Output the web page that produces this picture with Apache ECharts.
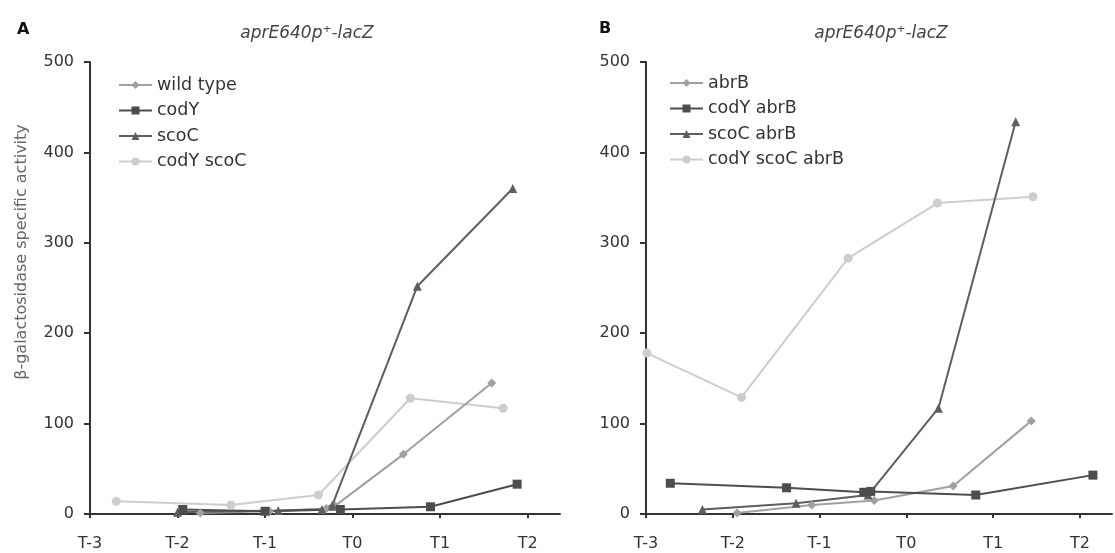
<!DOCTYPE html>
<html>
<head>
<meta charset="utf-8">
<script src="https://cdn.jsdelivr.net/npm/echarts@6/dist/echarts.min.js"></script>
<style>
  html, body { margin: 0; padding: 0; background: #fff; }
  #chart { width: 1115px; height: 553px; }
</style>
</head>
<body>
<div id="chart"></div>
<script>
// tick labels (x positions are hours relative to T0)
const xTicks = [-3, -2, -1, 0, 1, 2]
const yTicks = [0, 100, 200, 300, 400, 500]

// panel A: aprE640p+-lacZ
const wildType = [[-1.74, 1], [-0.95, 3], [-0.3, 6], [-0.2, 9], [0.58, 66], [1.59, 145]]
const codY = [[-1.94, 5], [-1.0, 3], [-0.14, 5], [0.89, 8], [1.88, 33]]
const scoC = [[-2.0, 2], [-0.85, 4], [-0.35, 5], [-0.23, 10], [0.74, 252], [1.83, 360]]
const codYscoC = [[-2.7, 14], [-1.39, 10], [-0.39, 21], [0.66, 128], [1.72, 117]]

// panel B: abrB background
const abrB = [[-1.95, 1], [-1.09, 10], [-0.37, 15], [0.54, 31], [1.44, 103]]
const codYabrB = [[-2.72, 34], [-1.38, 29], [-0.49, 24], [-0.41, 25], [0.8, 21], [2.15, 43]]
const scoCabrB = [[-2.35, 5], [-1.27, 12], [-0.44, 21], [0.37, 117], [1.26, 434]]
const codYscoCabrB = [[-2.99, 178], [-1.9, 129], [-0.67, 283], [0.36, 344], [1.46, 351]]

const FONT = 'DejaVu Sans'
const myChart = echarts.init(document.getElementById('chart'))

function xAxisOf(idx) {
  return {
    type: 'value', gridIndex: idx, min: -3, max: 2.37,
    splitLine: { show: false },
    axisLine: { onZero: false, lineStyle: { color: '#333', width: 2 } },
    axisTick: { customValues: xTicks, length: 4, lineStyle: { color: '#333', width: 2 } },
    axisLabel: {
      customValues: xTicks, margin: 22,
      color: '#333', fontFamily: FONT, fontSize: 16,
      formatter: v => 'T' + v
    }
  }
}
function yAxisOf(idx) {
  return {
    type: 'value', gridIndex: idx, min: 0, max: 500, interval: 100,
    splitLine: { show: false },
    axisLine: { show: true, onZero: false, lineStyle: { color: '#333', width: 2 } },
    axisTick: { show: true, length: 6, lineStyle: { color: '#333', width: 2 } },
    axisLabel: { color: '#333', fontFamily: FONT, fontSize: 16, margin: 16 }
  }
}
function lineOf(name, data, idx, color, symbol, size) {
  return {
    name: name, type: 'line', data: data,
    xAxisIndex: idx, yAxisIndex: idx,
    symbol: symbol, symbolSize: size,
    color: color,
    lineStyle: { color: color, width: 2 },
    itemStyle: { color: color },
    animation: false
  }
}
function legendOf(names, left, top) {
  return {
    data: names, orient: 'vertical', left: left, top: top,
    itemWidth: 33, itemHeight: 10, itemGap: 7.5,
    textStyle: { color: '#333', fontFamily: FONT, fontSize: 17.5, lineHeight: 18 }
  }
}

const cMid = '#a0a0a0', cDark = '#4d4d4d', cDark2 = '#5e5e5e', cLight = '#cdcdcd'
const titleText = { fontFamily: FONT, fontSize: 17, fontStyle: 'italic', fontWeight: 'normal', color: '#444' }
const panelText = { fontFamily: FONT, fontSize: 16, fontWeight: 'bold', color: '#111' }

const option = {
  backgroundColor: '#fff',
  title: [
    { text: 'A', left: 12, top: 17, textStyle: panelText },
    { text: 'B', left: 594, top: 16, textStyle: panelText },
    { text: 'aprE640p\u207A-lacZ', left: 302, top: 20, textAlign: 'center', textStyle: titleText },
    { text: 'aprE640p\u207A-lacZ', left: 876, top: 20, textAlign: 'center', textStyle: titleText }
  ],
  legend: [
    legendOf(['wild type', 'codY', 'scoC', 'codY scoC'], 113, 71),
    legendOf(['abrB', 'codY abrB', 'scoC abrB', 'codY scoC abrB'], 664, 69)
  ],
  grid: [
    { left: 90, top: 62, width: 470, height: 452 },
    { left: 646, top: 62, width: 466, height: 452 }
  ],
  graphic: [{
    type: 'text', x: 22, y: 252, rotation: Math.PI / 2,
    style: {
      text: '\u03B2-galactosidase specific activity',
      fill: '#666', font: '16px "DejaVu Sans"',
      textAlign: 'center', textVerticalAlign: 'middle'
    }
  }],
  xAxis: [xAxisOf(0), xAxisOf(1)],
  yAxis: [yAxisOf(0), yAxisOf(1)],
  series: [
    lineOf('codY scoC', codYscoC, 0, cLight, 'circle', 9),
    lineOf('wild type', wildType, 0, cMid, 'diamond', 9),
    lineOf('scoC', scoC, 0, cDark2, 'triangle', 9),
    lineOf('codY', codY, 0, cDark, 'rect', 9),
    lineOf('codY scoC abrB', codYscoCabrB, 1, cLight, 'circle', 9),
    lineOf('abrB', abrB, 1, cMid, 'diamond', 9),
    lineOf('scoC abrB', scoCabrB, 1, cDark2, 'triangle', 9),
    lineOf('codY abrB', codYabrB, 1, cDark, 'rect', 9)
  ]
}
option && myChart.setOption(option)
</script>
</body>
</html>
